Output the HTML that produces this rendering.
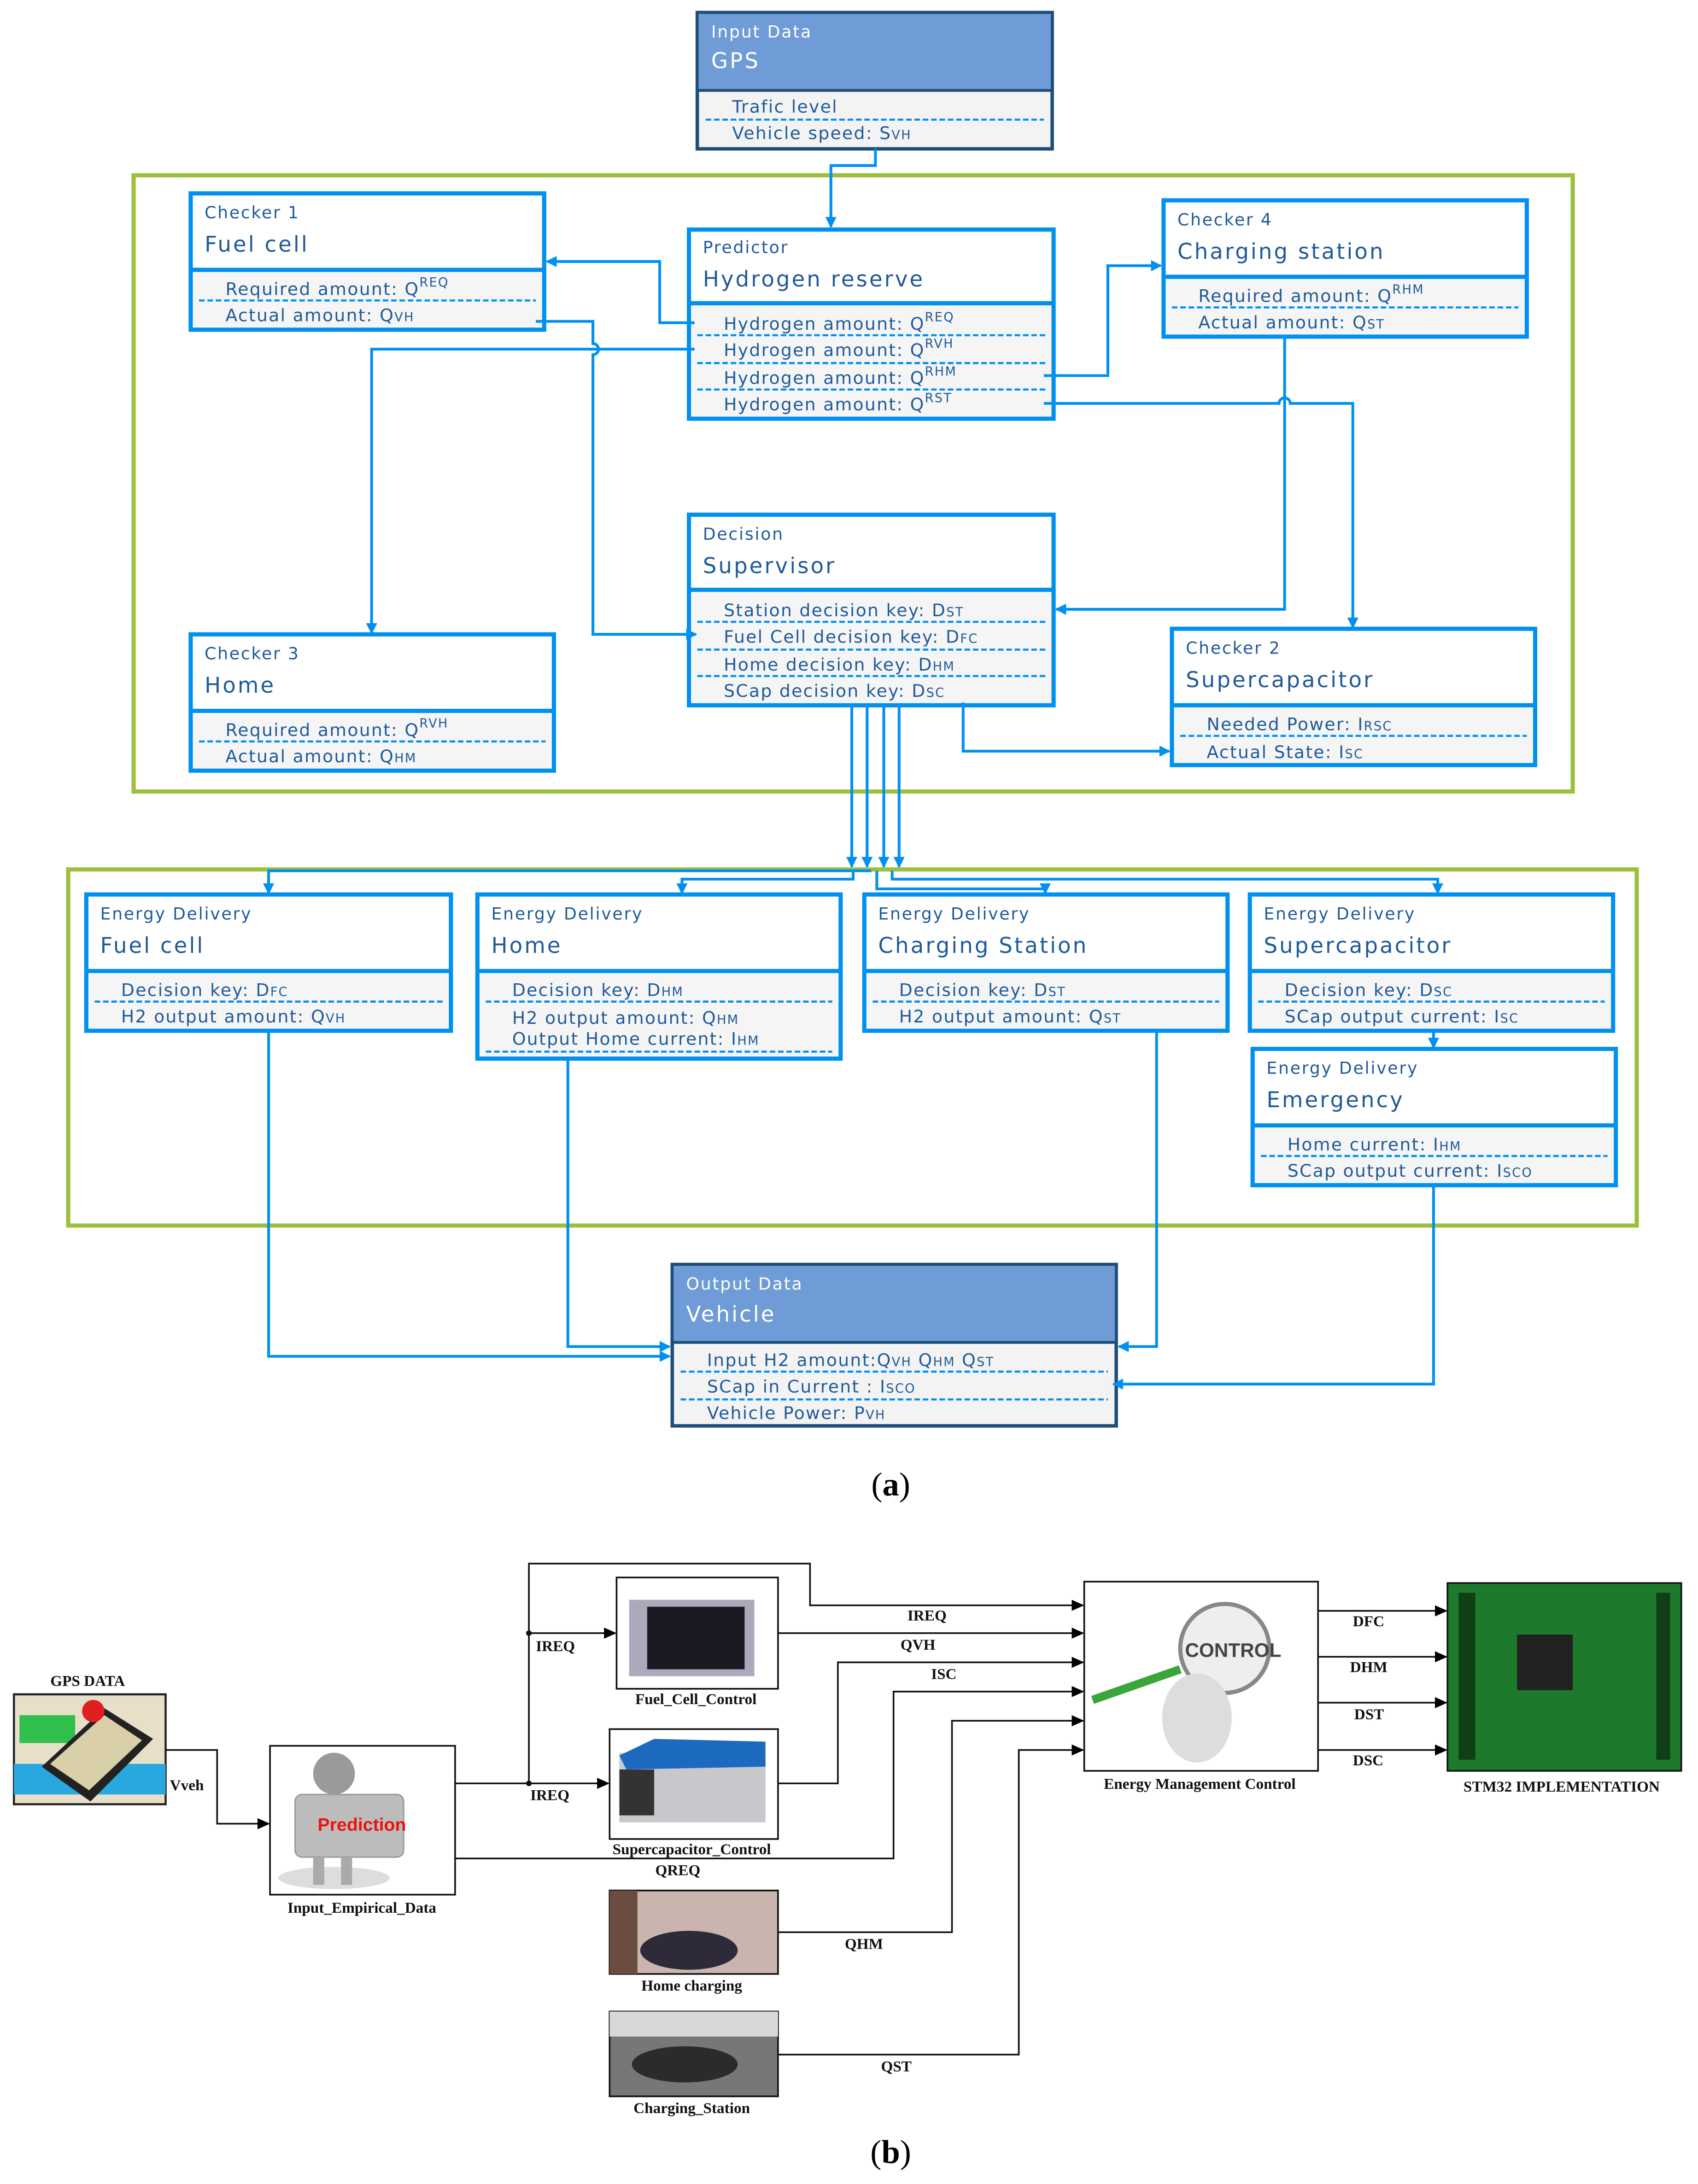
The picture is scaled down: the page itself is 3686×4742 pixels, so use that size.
<!DOCTYPE html>
<html><head><meta charset="utf-8"><style>
html,body{margin:0;padding:0;background:#fff;}
svg{display:block;}
.t{font-family:"DejaVu Sans","Liberation Sans",sans-serif;fill:#1f5a99;}
.s{font-size:12px;letter-spacing:0.9px;}
.h{font-size:15.5px;letter-spacing:1.3px;}
.r{font-size:12.5px;letter-spacing:0.75px;}
.w{fill:#fff;}
.b{font-family:"Liberation Serif",serif;font-weight:bold;font-size:11px;fill:#111;}
</style></head><body>
<svg width="3686" height="4742" viewBox="0 0 1220 1570" preserveAspectRatio="none" xmlns="http://www.w3.org/2000/svg">
<defs>
<marker id="a" markerWidth="8" markerHeight="8" refX="7" refY="4" orient="auto" markerUnits="userSpaceOnUse"><path d="M0,0L8,4L0,8z" fill="#0090f0"/></marker>
<marker id="k" markerWidth="9" markerHeight="8" refX="8" refY="4" orient="auto" markerUnits="userSpaceOnUse"><path d="M0,0L9,4L0,8z" fill="#000"/></marker>
</defs>
<rect width="1220" height="1570" fill="#fff"/>
<rect x="96" y="126" width="1034" height="443" fill="none" stroke="#9bc13c" stroke-width="3"/>
<rect x="49" y="625" width="1127" height="256" fill="none" stroke="#9bc13c" stroke-width="3"/>

<rect x="501" y="9" width="255" height="98" fill="#f3f3f3" stroke="#1f4e79" stroke-width="2.5"/>
<rect x="502" y="10" width="253" height="55" fill="#6f9bd6"/>
<line x1="501" y1="65" x2="756" y2="65" stroke="#1f4e79" stroke-width="2"/>
<text x="511" y="27" class="t s w">Input Data</text>
<text x="511" y="49" class="t h w">GPS</text>
<text x="526" y="81" class="t r">Trafic level</text>
<line x1="507" y1="86" x2="750" y2="86" stroke="#0090f0" stroke-width="1.5" stroke-dasharray="4,2"/>
<text x="526" y="100" class="t r">Vehicle speed: S<tspan font-size="9">VH</tspan></text>

<g fill="#f5f5f5" stroke="#0090f0" stroke-width="3">
<rect x="495" y="165" width="262" height="136"/>
<rect x="137" y="139" width="254" height="98"/>
<rect x="836" y="144" width="261" height="98"/>
<rect x="495" y="370" width="262" height="137"/>
<rect x="137" y="456" width="261" height="98"/>
<rect x="842" y="452" width="261" height="98"/>
<rect x="62" y="643" width="262" height="98"/>
<rect x="343" y="643" width="261" height="118"/>
<rect x="621" y="643" width="261" height="98"/>
<rect x="898" y="643" width="261" height="98"/>
<rect x="900" y="754" width="261" height="98"/>
</g>
<g fill="#fff">
<rect x="497" y="167" width="258" height="51"/>
<rect x="139" y="141" width="250" height="53"/>
<rect x="838" y="146" width="257" height="53"/>
<rect x="497" y="372" width="258" height="52"/>
<rect x="139" y="458" width="257" height="53"/>
<rect x="844" y="454" width="257" height="53"/>
<rect x="64" y="645" width="258" height="53"/>
<rect x="345" y="645" width="257" height="53"/>
<rect x="623" y="645" width="257" height="53"/>
<rect x="900" y="645" width="257" height="53"/>
<rect x="902" y="756" width="257" height="53"/>
</g>
<g stroke="#0090f0" stroke-width="3">
<line x1="495" y1="218" x2="757" y2="218"/>
<line x1="137" y1="194" x2="391" y2="194"/>
<line x1="836" y1="199" x2="1097" y2="199"/>
<line x1="495" y1="424" x2="757" y2="424"/>
<line x1="137" y1="511" x2="398" y2="511"/>
<line x1="842" y1="507" x2="1103" y2="507"/>
<line x1="62" y1="698" x2="324" y2="698"/>
<line x1="343" y1="698" x2="604" y2="698"/>
<line x1="621" y1="698" x2="882" y2="698"/>
<line x1="898" y1="698" x2="1159" y2="698"/>
<line x1="900" y1="809" x2="1161" y2="809"/>
</g>
<g stroke="#0090f0" stroke-width="1.5" stroke-dasharray="4,2">
<line x1="501" y1="241" x2="751" y2="241"/><line x1="501" y1="261" x2="751" y2="261"/><line x1="501" y1="280" x2="751" y2="280"/>
<line x1="143" y1="216" x2="385" y2="216"/>
<line x1="842" y1="221" x2="1091" y2="221"/>
<line x1="501" y1="447" x2="751" y2="447"/><line x1="501" y1="467" x2="751" y2="467"/><line x1="501" y1="486" x2="751" y2="486"/>
<line x1="143" y1="533" x2="392" y2="533"/>
<line x1="848" y1="529" x2="1097" y2="529"/>
<line x1="68" y1="720" x2="318" y2="720"/>
<line x1="349" y1="720" x2="598" y2="720"/><line x1="349" y1="756" x2="598" y2="756"/>
<line x1="627" y1="720" x2="876" y2="720"/>
<line x1="904" y1="720" x2="1153" y2="720"/>
<line x1="906" y1="831" x2="1155" y2="831"/>
</g>

<text x="505" y="182" class="t s">Predictor</text>
<text x="505" y="206" class="t h">Hydrogen reserve</text>
<text x="520" y="237" class="t r">Hydrogen amount: Q<tspan font-size="9" dy="-6">REQ</tspan></text>
<text x="520" y="256" class="t r">Hydrogen amount: Q<tspan font-size="9" dy="-6">RVH</tspan></text>
<text x="520" y="276" class="t r">Hydrogen amount: Q<tspan font-size="9" dy="-6">RHM</tspan></text>
<text x="520" y="295" class="t r">Hydrogen amount: Q<tspan font-size="9" dy="-6">RST</tspan></text>

<text x="147" y="157" class="t s">Checker 1</text>
<text x="147" y="181" class="t h">Fuel cell</text>
<text x="162" y="212" class="t r">Required amount: Q<tspan font-size="9" dy="-6">REQ</tspan></text>
<text x="162" y="231" class="t r">Actual amount: Q<tspan font-size="9">VH</tspan></text>

<text x="846" y="162" class="t s">Checker 4</text>
<text x="846" y="186" class="t h">Charging station</text>
<text x="861" y="217" class="t r">Required amount: Q<tspan font-size="9" dy="-6">RHM</tspan></text>
<text x="861" y="236" class="t r">Actual amount: Q<tspan font-size="9">ST</tspan></text>

<text x="505" y="388" class="t s">Decision</text>
<text x="505" y="412" class="t h">Supervisor</text>
<text x="520" y="443" class="t r">Station decision key:  D<tspan font-size="9">ST</tspan></text>
<text x="520" y="462" class="t r">Fuel Cell decision key:  D<tspan font-size="9">FC</tspan></text>
<text x="520" y="482" class="t r">Home decision key:  D<tspan font-size="9">HM</tspan></text>
<text x="520" y="501" class="t r">SCap decision key:  D<tspan font-size="9">SC</tspan></text>

<text x="147" y="474" class="t s">Checker 3</text>
<text x="147" y="498" class="t h">Home</text>
<text x="162" y="529" class="t r">Required amount: Q<tspan font-size="9" dy="-6">RVH</tspan></text>
<text x="162" y="548" class="t r">Actual amount: Q<tspan font-size="9">HM</tspan></text>

<text x="852" y="470" class="t s">Checker 2</text>
<text x="852" y="494" class="t h">Supercapacitor</text>
<text x="867" y="525" class="t r">Needed Power: I<tspan font-size="9">RSC</tspan></text>
<text x="867" y="545" class="t r">Actual State: I<tspan font-size="9">SC</tspan></text>

<text x="72" y="661" class="t s">Energy Delivery</text>
<text x="72" y="685" class="t h">Fuel cell</text>
<text x="87" y="716" class="t r">Decision key: D<tspan font-size="9">FC</tspan></text>
<text x="87" y="735" class="t r">H2 output amount: Q<tspan font-size="9">VH</tspan></text>

<text x="353" y="661" class="t s">Energy Delivery</text>
<text x="353" y="685" class="t h">Home</text>
<text x="368" y="716" class="t r">Decision key: D<tspan font-size="9">HM</tspan></text>
<text x="368" y="736" class="t r">H2 output amount: Q<tspan font-size="9">HM</tspan></text>
<text x="368" y="751" class="t r">Output Home current: I<tspan font-size="9">HM</tspan></text>

<text x="631" y="661" class="t s">Energy Delivery</text>
<text x="631" y="685" class="t h">Charging Station</text>
<text x="646" y="716" class="t r">Decision key: D<tspan font-size="9">ST</tspan></text>
<text x="646" y="735" class="t r">H2 output amount: Q<tspan font-size="9">ST</tspan></text>

<text x="908" y="661" class="t s">Energy Delivery</text>
<text x="908" y="685" class="t h">Supercapacitor</text>
<text x="923" y="716" class="t r">Decision key: D<tspan font-size="9">SC</tspan></text>
<text x="923" y="735" class="t r">SCap output current: I<tspan font-size="9">SC</tspan></text>

<text x="910" y="772" class="t s">Energy Delivery</text>
<text x="910" y="796" class="t h">Emergency</text>
<text x="925" y="827" class="t r">Home current: I<tspan font-size="9">HM</tspan></text>
<text x="925" y="846" class="t r">SCap output current: I<tspan font-size="9">SCO</tspan></text>

<rect x="483" y="909" width="319" height="116" fill="#f3f3f3" stroke="#1f4e79" stroke-width="2.5"/>
<rect x="484" y="910" width="317" height="55" fill="#6f9bd6"/>
<line x1="483" y1="965" x2="802" y2="965" stroke="#1f4e79" stroke-width="2"/>
<text x="493" y="927" class="t s w">Output Data</text>
<text x="493" y="950" class="t h w">Vehicle</text>
<text x="508" y="982" class="t r">Input H2 amount:Q<tspan font-size="9">VH</tspan> Q<tspan font-size="9">HM</tspan> Q<tspan font-size="9">ST</tspan></text>
<line x1="489" y1="986" x2="796" y2="986" stroke="#0090f0" stroke-width="1.5" stroke-dasharray="4,2"/>
<text x="508" y="1001" class="t r">SCap in Current : I<tspan font-size="9">SCO</tspan></text>
<line x1="489" y1="1006" x2="796" y2="1006" stroke="#0090f0" stroke-width="1.5" stroke-dasharray="4,2"/>
<text x="508" y="1020" class="t r">Vehicle Power: P<tspan font-size="9">VH</tspan></text>

<g fill="none" stroke="#0090f0" stroke-width="2" marker-end="url(#a)">
<polyline points="629,107 629,119 597,119 597,163"/>
<polyline points="499,232 474,232 474,188 393,188"/>
<polyline points="499,251 267,251 267,455"/>
<path d="M385,231H426V247A4,4 0 0 1 426,255V456H500"/>
<polyline points="750,270 796,270 796,191 834,191"/>
<path d="M750,290H919A4,4 0 0 1 927,290H972V451"/>
<polyline points="923,242 923,438 759,438"/>
<polyline points="692,505 692,540 840,540"/>
<polyline points="612,507 612,623"/>
<polyline points="623,507 623,623"/>
<polyline points="635,507 635,623"/>
<polyline points="646,507 646,623"/>
<polyline points="626,626 193,626 193,642"/>
<polyline points="613,626 613,632 490,632 490,642"/>
<polyline points="630,626 630,639 751,639 751,642"/>
<polyline points="641,626 641,632 1033,632 1033,642"/>
<polyline points="1030,741 1030,753"/>
<polyline points="193,741 193,975 481,975"/>
<polyline points="408,761 408,968 481,968"/>
<polyline points="831,741 831,968 804,968"/>
<polyline points="1030,852 1030,995 800,995"/>
</g>

<text x="640" y="1075" font-family="Liberation Serif,serif" font-size="24" text-anchor="middle">(<tspan font-weight="bold">a</tspan>)</text>

<rect x="10" y="1218" width="109" height="79" fill="#e8dfc8" stroke="#222" stroke-width="1.5"/>
<rect x="10" y="1268" width="109" height="22" fill="#29a8e0"/>
<rect x="14" y="1233" width="40" height="20" fill="#2fbf4a"/>
<polygon points="30,1270 75,1228 110,1250 65,1295" fill="#222"/>
<polygon points="36,1268 75,1233 102,1251 64,1287" fill="#d9cfa8"/>
<circle cx="67" cy="1230" r="8" fill="#e02020"/>
<text x="63" y="1212" class="b" text-anchor="middle">GPS DATA</text>
<text x="122" y="1287" class="b">Vveh</text>

<rect x="194" y="1255" width="133" height="107" fill="#fff" stroke="#111" stroke-width="1.2"/>
<ellipse cx="240" cy="1350" rx="40" ry="8" fill="#ddd"/>
<circle cx="240" cy="1275" r="15" fill="#9a9a9a"/>
<rect x="212" y="1290" width="78" height="45" rx="5" fill="#bcbcbc" stroke="#999"/>
<rect x="225" y="1335" width="8" height="20" fill="#aaa"/><rect x="245" y="1335" width="8" height="20" fill="#aaa"/>
<text x="260" y="1316" font-family="Liberation Sans,sans-serif" font-weight="bold" font-size="13" fill="#ee1111" text-anchor="middle">Prediction</text>
<text x="260" y="1375" class="b" text-anchor="middle">Input_Empirical_Data</text>

<rect x="443" y="1134" width="116" height="80" fill="#fff" stroke="#111" stroke-width="1.2"/>
<rect x="452" y="1150" width="90" height="55" fill="#aab" />
<rect x="465" y="1155" width="70" height="45" fill="#1a1a22"/>
<text x="500" y="1225" class="b" text-anchor="middle">Fuel_Cell_Control</text>
<rect x="438" y="1243" width="121" height="79" fill="#fff" stroke="#111" stroke-width="1.2"/>
<rect x="445" y="1260" width="105" height="50" fill="#c8c8cc"/>
<polygon points="445,1262 470,1250 550,1252 550,1270 450,1272" fill="#1c6ac0"/>
<rect x="445" y="1272" width="25" height="33" fill="#333"/>
<text x="497" y="1333" class="b" text-anchor="middle">Supercapacitor_Control</text>
<text x="487" y="1348" class="b" text-anchor="middle">QREQ</text>
<rect x="438" y="1359" width="121" height="60" fill="#c9b5ad" stroke="#111" stroke-width="1.2"/>
<rect x="438" y="1359" width="20" height="60" fill="#6a4d3e"/>
<ellipse cx="495" cy="1402" rx="35" ry="14" fill="#2e2a3a"/>
<text x="497" y="1431" class="b" text-anchor="middle">Home charging</text>
<rect x="438" y="1446" width="121" height="61" fill="#777" stroke="#111" stroke-width="1.2"/>
<rect x="438" y="1446" width="121" height="18" fill="#d8d8d8"/>
<ellipse cx="492" cy="1484" rx="38" ry="13" fill="#2b2b2b"/>
<text x="497" y="1519" class="b" text-anchor="middle">Charging_Station</text>
<rect x="779" y="1137" width="168" height="136" fill="#fff" stroke="#111" stroke-width="1.2"/>
<circle cx="880" cy="1185" r="32" fill="#eee" stroke="#888" stroke-width="3"/>
<text x="886" y="1191" font-family="Liberation Sans,sans-serif" font-weight="bold" font-size="14" fill="#444" text-anchor="middle">CONTROL</text>
<ellipse cx="860" cy="1235" rx="25" ry="32" fill="#ddd"/>
<line x1="785" y1="1222" x2="848" y2="1200" stroke="#3aa53a" stroke-width="6"/>
<text x="862" y="1286" class="b" text-anchor="middle">Energy Management Control</text>
<rect x="1040" y="1138" width="168" height="135" fill="#1d7a2c" stroke="#111" stroke-width="1.2"/>
<rect x="1090" y="1175" width="40" height="40" fill="#222"/>
<rect x="1048" y="1145" width="12" height="120" fill="#0f3f16"/>
<rect x="1190" y="1145" width="10" height="120" fill="#0f3f16"/>
<text x="1122" y="1288" class="b" text-anchor="middle">STM32 IMPLEMENTATION</text>

<g fill="none" stroke="#111" stroke-width="1.2" marker-end="url(#k)">
<polyline points="119,1258 156,1258 156,1311 193,1311"/>
<polyline points="327,1282 437,1282"/>
<polyline points="380,1282 380,1124 582,1124 582,1154 778,1154"/>
<polyline points="380,1174 442,1174"/>
<polyline points="559,1174 778,1174"/>
<polyline points="559,1282 602,1282 602,1195 778,1195"/>
<polyline points="327,1336 642,1336 642,1216 778,1216"/>
<polyline points="559,1389 684,1389 684,1237 778,1237"/>
<polyline points="559,1477 732,1477 732,1258 778,1258"/>
<polyline points="947,1158 1039,1158"/>
<polyline points="947,1191 1039,1191"/>
<polyline points="947,1224 1039,1224"/>
<polyline points="947,1258 1039,1258"/>
</g>
<circle cx="380" cy="1174" r="2" fill="#111"/><circle cx="380" cy="1282" r="2" fill="#111"/>
<text x="385" y="1187" class="b">IREQ</text>
<text x="381" y="1294" class="b">IREQ</text>
<text x="652" y="1165" class="b">IREQ</text>
<text x="647" y="1186" class="b">QVH</text>
<text x="669" y="1207" class="b">ISC</text>
<text x="607" y="1401" class="b">QHM</text>
<text x="633" y="1489" class="b">QST</text>
<text x="972" y="1169" class="b">DFC</text>
<text x="970" y="1202" class="b">DHM</text>
<text x="973" y="1236" class="b">DST</text>
<text x="972" y="1269" class="b">DSC</text>

<text x="640" y="1555" font-family="Liberation Serif,serif" font-size="24" text-anchor="middle">(<tspan font-weight="bold">b</tspan>)</text>
</svg>
</body></html>
